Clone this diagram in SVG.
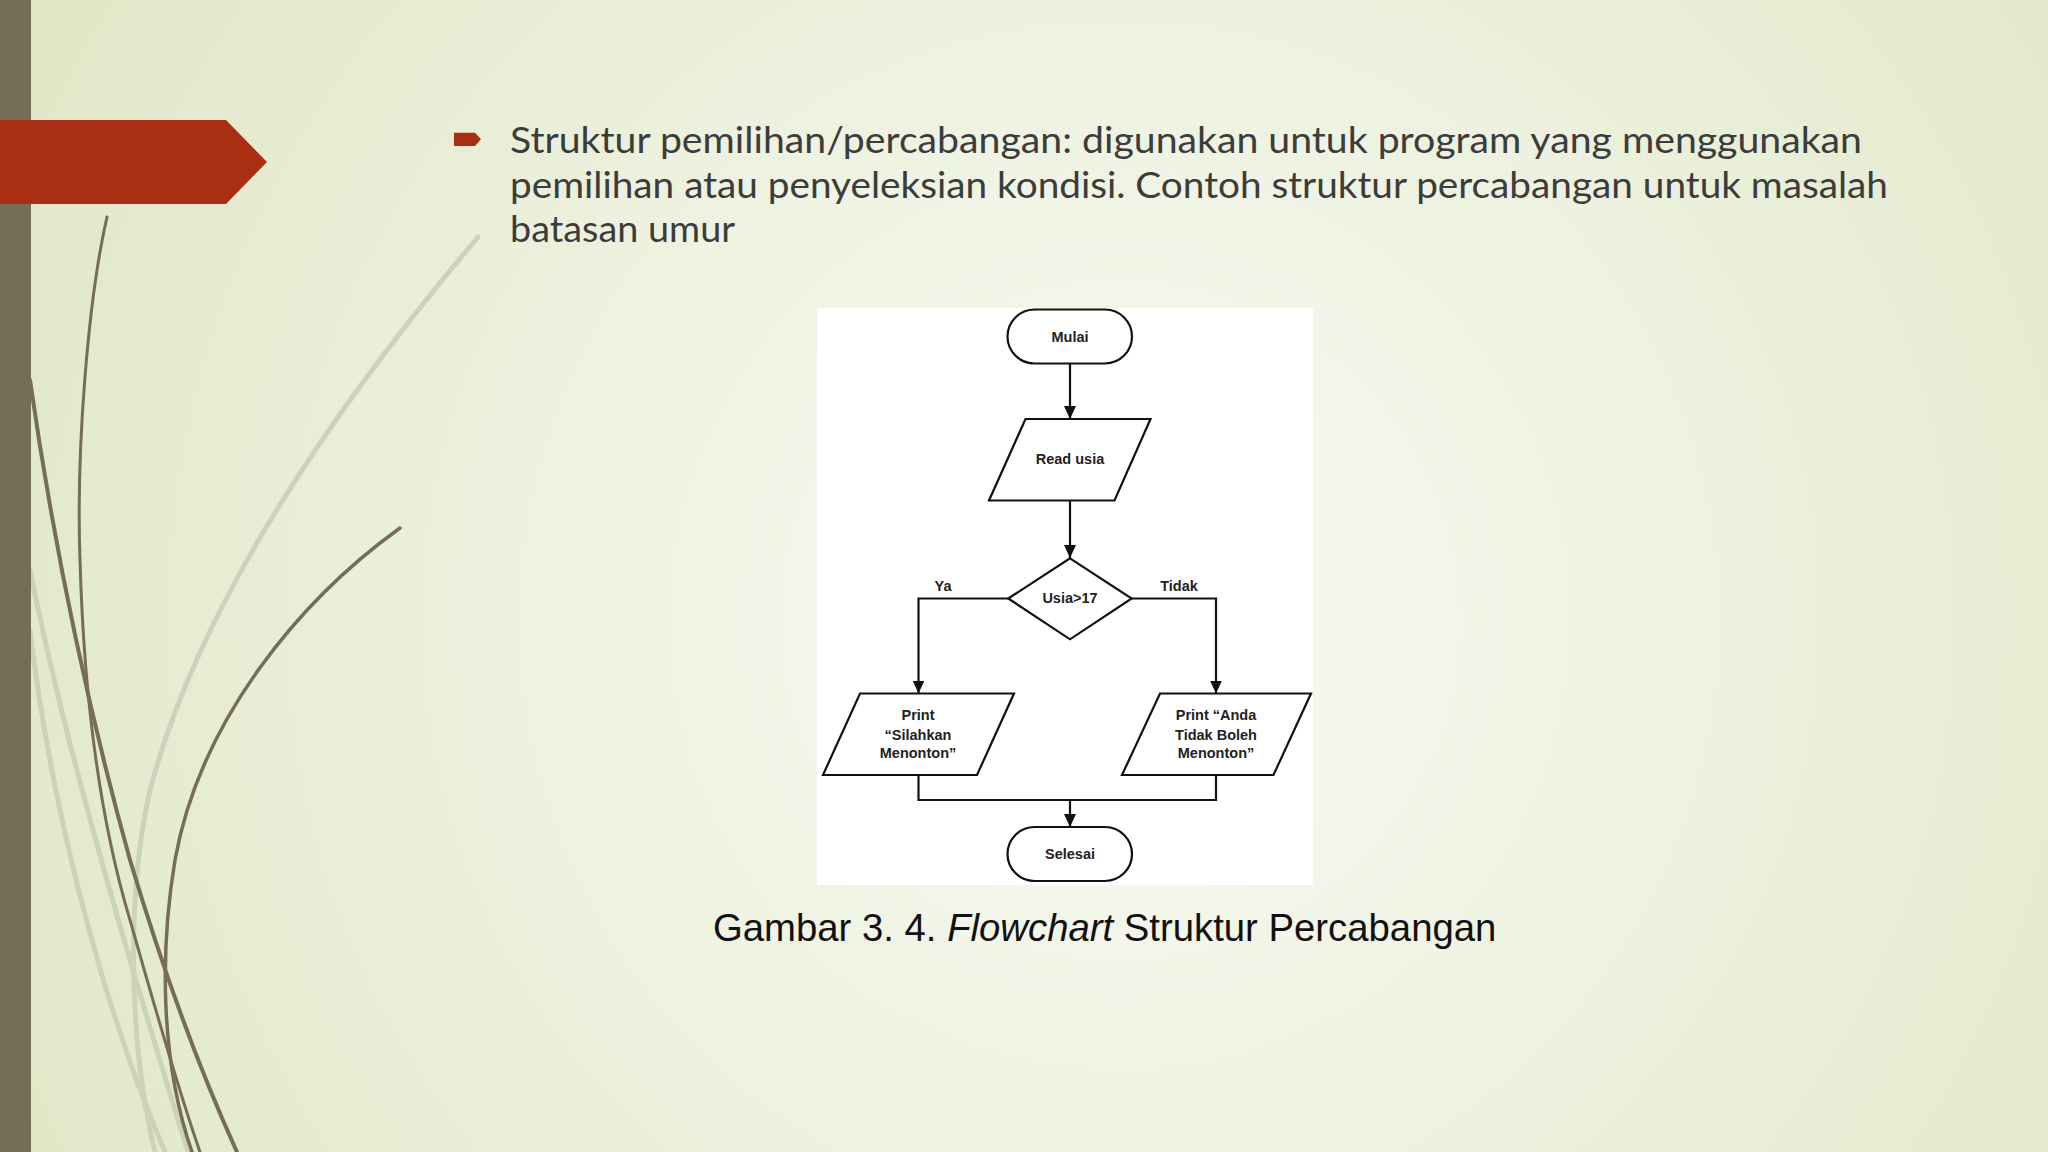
<svg xmlns="http://www.w3.org/2000/svg" width="2048" height="1152" viewBox="0 0 2048 1152">
<defs>
<radialGradient id="bg" cx="1120" cy="620" r="1250" gradientUnits="userSpaceOnUse">
<stop offset="0" stop-color="#f8faf2"/>
<stop offset="0.45" stop-color="#eef2e0"/>
<stop offset="1" stop-color="#e0e7c6"/>
</radialGradient>
<marker id="arr" markerUnits="userSpaceOnUse" markerWidth="13" markerHeight="12" refX="13" refY="6" orient="auto">
<path d="M0,0 L13,6 L0,12 z" fill="#111"/>
</marker>
<style>
.dk{fill:none;stroke:#766d57;stroke-linecap:round}
.lt{fill:none;stroke:#cdd2ba;stroke-linecap:round}
.shape{fill:#fff;stroke:#111;stroke-width:2.2}
.conn{fill:none;stroke:#111;stroke-width:2.2}
.ft{font-family:"Liberation Sans",Arial,sans-serif;font-weight:bold;font-size:14.5px;fill:#222;text-anchor:middle}
.title{font-family:Lato,"Open Sans",sans-serif;font-size:36px;fill:#3c3c3c}
.cap{font-family:"Liberation Sans",Arial,sans-serif;font-size:38.3px;fill:#111}
</style>
</defs>
<rect width="2048" height="1152" fill="url(#bg)"/>
<g id="decor">
<path class="lt" stroke-width="5" d="M478,237 C340,400 200,600 150,790 C125,900 130,1050 155,1152"/>
<path class="lt" stroke-width="5" d="M30,570 C60,720 110,900 188,1152"/>
<path class="lt" stroke-width="5" d="M30,630 C50,800 100,1000 165,1152"/>
<path class="dk" stroke-width="3" d="M107,217 C88,300 76,450 80,560 C84,700 100,820 130,920 C150,990 175,1080 200,1152"/>
<path class="dk" stroke-width="4" d="M30,380 C50,520 80,680 130,860 C160,960 195,1060 237,1152"/>
<path class="dk" stroke-width="3.5" d="M400,528 C300,600 200,720 175,860 C160,950 160,1060 192,1152"/>
<rect x="0" y="0" width="31" height="1152" fill="#766d57"/>
<polygon points="0,120 226,120 267,162 226,204 0,204" fill="#a82f11"/>
</g>
<g id="title">
<polygon points="454,132.7 475,132.7 481,139.3 475,146 454,146" fill="#a82f11"/>
<text class="title" x="510" y="153" textLength="1352" lengthAdjust="spacingAndGlyphs">Struktur pemilihan/percabangan: digunakan untuk program yang menggunakan</text>
<text class="title" x="510" y="198" textLength="1378" lengthAdjust="spacingAndGlyphs">pemilihan atau penyeleksian kondisi. Contoh struktur percabangan untuk masalah</text>
<text class="title" x="510" y="242" textLength="225" lengthAdjust="spacingAndGlyphs">batasan umur</text>
</g>
<rect id="panel" x="817" y="308" width="496" height="577" fill="#fff"/>
<g id="connectors">
<path class="conn" d="M1070,364 V419" marker-end="url(#arr)"/>
<path class="conn" d="M1070,500.5 V558" marker-end="url(#arr)"/>
<path class="conn" d="M1008.3,598.5 H918.5 V693.5" marker-end="url(#arr)"/>
<path class="conn" d="M1131.7,598.5 H1216 V693.5" marker-end="url(#arr)"/>
<path class="conn" d="M918.5,775 V800 H1216 V775"/>
<path class="conn" d="M1070,800 V827" marker-end="url(#arr)"/>
<text class="ft" x="943" y="591">Ya</text>
<text class="ft" x="1179" y="591">Tidak</text>
</g>
<g id="mulai">
<rect class="shape" x="1007.5" y="309.5" width="124.5" height="54" rx="27"/>
<text class="ft" x="1070" y="341.5">Mulai</text>
</g>
<g id="read">
<polygon class="shape" points="1025.5,419 1150.5,419 1114.5,500.5 989,500.5"/>
<text class="ft" x="1070" y="464">Read usia</text>
</g>
<g id="decision">
<polygon class="shape" points="1070,558.3 1131.7,598.5 1070,639.3 1008.3,598.5"/>
<text class="ft" x="1070" y="603">Usia&gt;17</text>
</g>
<g id="print-ya">
<polygon class="shape" points="860,693.5 1014,693.5 977,775 823,775"/>
<text class="ft" x="918" y="720">Print</text>
<text class="ft" x="918" y="739.5">“Silahkan</text>
<text class="ft" x="918" y="758">Menonton”</text>
</g>
<g id="print-tidak">
<polygon class="shape" points="1160,693.5 1311,693.5 1273.5,775 1122,775"/>
<text class="ft" x="1216" y="720">Print “Anda</text>
<text class="ft" x="1216" y="739.5">Tidak Boleh</text>
<text class="ft" x="1216" y="758">Menonton”</text>
</g>
<g id="selesai">
<rect class="shape" x="1007.5" y="827" width="124.5" height="54" rx="27"/>
<text class="ft" x="1070" y="859">Selesai</text>
</g>
<text class="cap" x="713" y="941">Gambar 3. 4. <tspan font-style="italic">Flowchart</tspan> Struktur Percabangan</text>
</svg>
